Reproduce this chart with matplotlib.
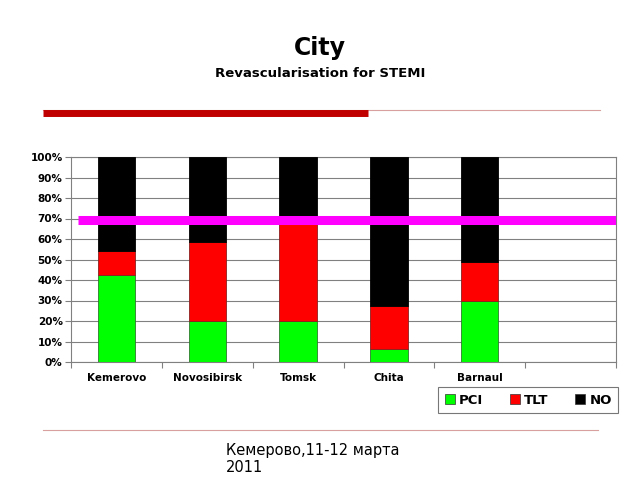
import numpy as np
import matplotlib.pyplot as plt
from matplotlib.lines import Line2D
from matplotlib.ticker import FuncFormatter, MultipleLocator

cities = ['Kemerovo', 'Novosibirsk', 'Tomsk', 'Chita', 'Barnaul']
pci = [42.5, 20, 20, 6.5, 30]
tlt = [11.5, 38.5, 48, 21, 19]
no = [100 - p - t for p, t in zip(pci, tlt)]
target = 69.5

fig = plt.figure(figsize=(6.4, 4.8), dpi=100)
fig.patch.set_facecolor('white')

# header
fig.text(0.5, 0.9, 'City', ha='center', va='center', fontsize=17, fontweight='bold')
fig.text(0.5, 0.846, 'Revascularisation for STEMI', ha='center', va='center',
         fontsize=9.5, fontweight='bold')
fig.add_artist(Line2D([43/640, 600/640], [1 - 110/480] * 2, color='#d9a0a0', lw=0.8))
fig.add_artist(Line2D([43/640, 368/640], [1 - 113/480] * 2, color='#c00000', lw=5,
                      solid_capstyle='butt'))

ax = fig.add_axes([71/640, 1 - 362/480, 545/640, 205/480])
x = np.arange(len(cities)) + 0.5
w = 0.41
ax.bar(x, pci, w, color='#00ff00', edgecolor='#2d7a2d', lw=0.6, zorder=3, label='PCI')
ax.bar(x, tlt, w, bottom=pci, color='#ff0000', edgecolor='#8a2020', lw=0.6, zorder=3, label='TLT')
ax.bar(x, no, w, bottom=np.array(pci) + np.array(tlt), color='black', edgecolor='black',
       lw=0.6, zorder=3, label='NO')
ax.axhline(target, xmin=0.013, xmax=1, color='#ff00ff', lw=6.5, zorder=4,
           solid_capstyle='butt')

ax.set_xlim(0, 6)
ax.set_ylim(0, 100)
ax.yaxis.set_major_locator(MultipleLocator(10))
ax.yaxis.set_major_formatter(FuncFormatter(lambda v, p: f'{v:.0f}%'))
ax.set_xticks(np.arange(0, 7))
ax.set_xticklabels([])
ax.set_xticks(x, minor=True)
ax.set_xticklabels(cities, minor=True)
ax.tick_params(axis='x', which='minor', length=0, pad=8)
ax.tick_params(axis='x', which='major', length=4, color='#808080', direction='out')
ax.tick_params(axis='y', length=4, color='#808080', pad=2)
for lab in ax.get_xticklabels(minor=True) + ax.get_yticklabels():
    lab.set_fontsize(7.5)
    lab.set_fontweight('bold')
ax.grid(axis='y', color='#808080', lw=0.8, zorder=0)
for s in ['left', 'bottom', 'right', 'top']:
    ax.spines[s].set_color('#808080')

handles = [Line2D([], [], marker='s', ls='', markersize=7, markerfacecolor=c,
                  markeredgecolor='#333333', markeredgewidth=0.5)
           for c in ['#00ff00', '#ff0000', 'black']]
leg = fig.legend(handles, ['PCI', 'TLT', 'NO'], ncol=3, loc='center',
                 bbox_to_anchor=(528/640, 1 - 400/480), frameon=True, fancybox=False,
                 edgecolor='#555555', handlelength=0.8, handletextpad=0.3,
                 columnspacing=2.0, borderpad=0.5, borderaxespad=0,
                 prop={'weight': 'bold', 'size': 9.5})
leg.get_frame().set_linewidth(0.8)

# footer
fig.add_artist(Line2D([43/640, 598/640], [1 - 430/480] * 2, color='#d9a0a0', lw=0.8))
fig.text(226/640, 1 - 450/480, 'Кемерово,11-12 марта', ha='left', va='center', fontsize=10.5)
fig.text(226/640, 1 - 467/480, '2011', ha='left', va='center', fontsize=10.5)

fig.savefig('out.png', dpi=100)
